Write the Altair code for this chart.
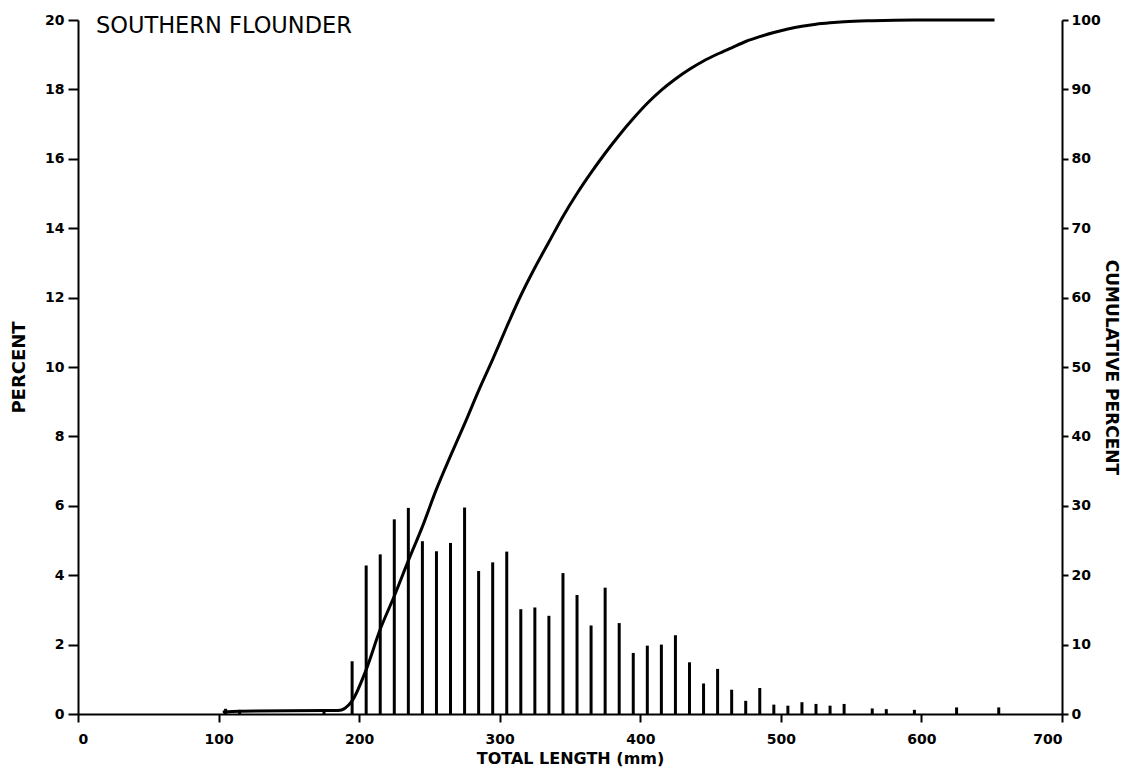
import altair as alt
import pandas as pd

# Frequency bars: total length (mm) and percent
bar_lengths = [105, 115, 175, 195, 205, 215, 225, 235, 245, 255, 265, 275, 285, 295, 305,
               315, 325, 335, 345, 355, 365, 375, 385, 395, 405, 415, 425, 435, 445, 455,
               465, 475, 485, 495, 505, 515, 525, 535, 545, 565, 575, 595, 625, 655]
bar_percents = [0.15, 0.12, 0.12, 1.52, 4.28, 4.6, 5.61, 5.94, 4.98, 4.69, 4.93, 5.95, 4.12, 4.37, 4.68,
                3.02, 3.07, 2.83, 4.06, 3.43, 2.55, 3.64, 2.62, 1.76, 1.97, 2.0, 2.27, 1.49, 0.88, 1.30,
                0.70, 0.38, 0.75, 0.27, 0.24, 0.34, 0.29, 0.24, 0.29, 0.16, 0.14, 0.12, 0.19, 0.19]

# Cumulative percent curve
cum_lengths = [103, 115, 175, 185, 195, 205, 215, 225, 235, 245, 255, 265, 275, 285, 295,
               305, 315, 325, 335, 345, 355, 365, 375, 385, 395, 405, 415, 425, 435, 445,
               455, 465, 475, 485, 495, 505, 515, 525, 535, 545, 565, 595, 625, 652]
cum_percents = [0.3, 0.4, 0.5, 0.5, 1.9, 6.4, 12.2, 17.0, 22.1, 27.0, 32.4, 37.2, 41.8, 46.6, 51.1,
                55.8, 60.3, 64.3, 68.0, 71.7, 75.0, 78.0, 80.8, 83.4, 85.8, 88.0, 89.9, 91.5, 92.9, 94.1,
                95.1, 96.0, 96.9, 97.6, 98.2, 98.7, 99.1, 99.4, 99.6, 99.75, 99.9, 100.0, 100.0, 100.0]

x_ticks = [0, 100, 200, 300, 400, 500, 600, 700]
left_ticks = [0, 2, 4, 6, 8, 10, 12, 14, 16, 18, 20]
right_ticks = [0, 10, 20, 30, 40, 50, 60, 70, 80, 90, 100]

bars_df = pd.DataFrame({"length": bar_lengths, "pct": bar_percents})
cum_df = pd.DataFrame({"length": cum_lengths, "cum": cum_percents})

FONT = "DejaVu Sans"

x_scale = alt.Scale(domain=[0, 700], nice=False, zero=True, padding=0)
x_axis = alt.Axis(values=x_ticks, title="TOTAL LENGTH (mm)", grid=False,
                  tickSize=8, tickWidth=2, domainWidth=2, domainColor="black", tickColor="black",
                  labelFontSize=14, labelFontWeight="bold", labelColor="black", labelPadding=10,
                  labelFont=FONT, titleFont=FONT, titleFontSize=16, titleFontWeight="bold",
                  titleColor="black", titlePadding=4)

bars = alt.Chart(bars_df).mark_bar(size=3, color="black").encode(
    x=alt.X("length:Q", scale=x_scale, axis=x_axis),
    y=alt.Y("pct:Q", scale=alt.Scale(domain=[0, 20], nice=False),
            axis=alt.Axis(values=left_ticks, title="PERCENT", grid=False, orient="left",
                          tickSize=10, tickWidth=2, domainWidth=2, domainColor="black",
                          tickColor="black", labelFontSize=14, labelFontWeight="bold",
                          labelColor="black", labelPadding=4, labelFont=FONT,
                          titleFont=FONT, titleFontSize=18, titleFontWeight="bold",
                          titleColor="black", titlePadding=16)),
)

line = alt.Chart(cum_df).mark_line(color="black", strokeWidth=3, interpolate="monotone").encode(
    x=alt.X("length:Q", scale=x_scale, axis=x_axis),
    y=alt.Y("cum:Q", scale=alt.Scale(domain=[0, 100], nice=False),
            axis=alt.Axis(values=right_ticks, title="CUMULATIVE PERCENT", grid=False,
                          orient="right", tickSize=6, tickWidth=2, domainWidth=2,
                          domainColor="black", tickColor="black", labelFontSize=14,
                          labelFontWeight="bold", labelColor="black", labelPadding=3,
                          labelFont=FONT, titleFont=FONT, titleFontSize=17,
                          titleFontWeight="bold", titleColor="black", titlePadding=1,
                          titleAngle=90)),
)

chart = alt.layer(bars, line).resolve_scale(y="independent").properties(
    width=984,
    height=694,
    title=alt.TitleParams(text="SOUTHERN FLOUNDER", anchor="start", frame="group",
                          orient="top", baseline="top", dx=18, dy=24, offset=0,
                          font=FONT, fontSize=22.5, fontWeight="normal", color="black"),
    autosize=alt.AutoSizeParams(type="none"),
    padding={"left": 70, "top": 12, "right": 63, "bottom": 53},
    background="white",
).configure_view(stroke=None)

chart.save("out.html", embed_options={"renderer": "svg", "actions": False})
